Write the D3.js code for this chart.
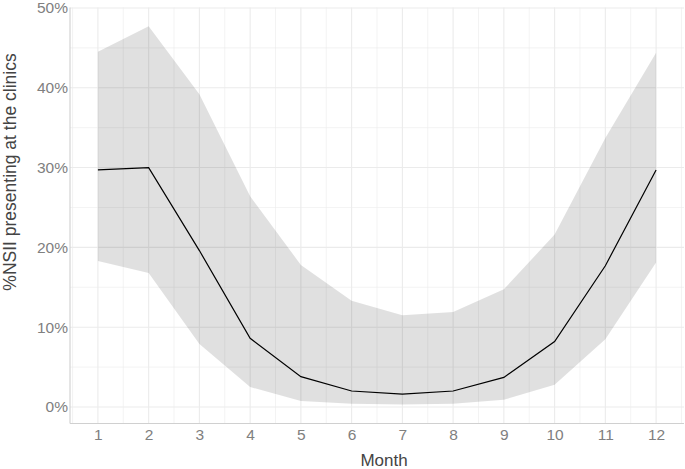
<!DOCTYPE html>
<html>
<head>
<meta charset="utf-8">
<script src="https://cdn.jsdelivr.net/npm/d3@7"></script>
<style>
  html, body { margin: 0; padding: 0; background: #fff; }
  svg { display: block; }
  text { font-family: "Liberation Sans", Arial, Helvetica, sans-serif; }
</style>
</head>
<body>
<svg id="chart" width="685" height="469"></svg>
<script>
const months = [1, 2, 3, 4, 5, 6, 7, 8, 9, 10, 11, 12];
const meanPct  = [29.7, 30.0, 19.6, 8.6, 3.8, 2.0, 1.6, 2.0, 3.7, 8.2, 17.7, 29.7];
const upperPct = [44.5, 47.7, 39.2, 26.4, 17.8, 13.3, 11.5, 11.9, 14.75, 21.6, 33.7, 44.4];
const lowerPct = [18.3, 16.8, 7.9, 2.5, 0.75, 0.4, 0.3, 0.4, 0.9, 2.8, 8.5, 18.1];
const yTicks = [0, 10, 20, 30, 40, 50];
const yMinor = [5, 15, 25, 35, 45];
const xMinor = [0.5, 1.5, 2.5, 3.5, 4.5, 5.5, 6.5, 7.5, 8.5, 9.5, 10.5, 11.5, 12.5];
const xTitle = "Month";
const yTitle = "%NSII presenting at the clinics";

(function () {
const data = months.map((m, i) => ({ m, mean: meanPct[i], lo: lowerPct[i], hi: upperPct[i] }));

const svg = d3.select("#chart");
const pLeft = 70, pRight = 684, pTop = 7.4, pBottom = 423.5;

const x = d3.scaleLinear().domain([0.45, 12.55]).range([pLeft, pRight]);
const y = d3.scaleLinear().domain([-2.07, 50.07]).range([pBottom, pTop]);

const grid = svg.append("g");
grid.selectAll(".vminor").data(xMinor).join("line")
  .attr("x1", d => x(d)).attr("x2", d => x(d))
  .attr("y1", pTop).attr("y2", pBottom)
  .attr("stroke", "#ebebeb").attr("stroke-width", 0.6);
grid.selectAll(".hminor").data(yMinor).join("line")
  .attr("x1", pLeft).attr("x2", pRight)
  .attr("y1", d => y(d)).attr("y2", d => y(d))
  .attr("stroke", "#ebebeb").attr("stroke-width", 0.6);
grid.selectAll(".vmajor").data(months).join("line")
  .attr("x1", d => x(d)).attr("x2", d => x(d))
  .attr("y1", pTop).attr("y2", pBottom)
  .attr("stroke", "#ebebeb").attr("stroke-width", 1.1);
grid.selectAll(".hmajor").data(yTicks).join("line")
  .attr("x1", pLeft).attr("x2", pRight)
  .attr("y1", d => y(d)).attr("y2", d => y(d))
  .attr("stroke", "#ebebeb").attr("stroke-width", 1.1);

const area = d3.area().x(d => x(d.m)).y0(d => y(d.lo)).y1(d => y(d.hi));
svg.append("path").datum(data).attr("d", area)
  .attr("fill", "#000").attr("fill-opacity", 0.12);

const line = d3.line().x(d => x(d.m)).y(d => y(d.mean));
svg.append("path").datum(data).attr("d", line)
  .attr("fill", "none").attr("stroke", "#000").attr("stroke-width", 1.2);

svg.append("line").attr("x1", pLeft).attr("x2", pLeft).attr("y1", pTop).attr("y2", pBottom)
  .attr("stroke", "#d0d0d0").attr("stroke-width", 1.1);
svg.append("line").attr("x1", pLeft).attr("x2", pRight).attr("y1", pBottom).attr("y2", pBottom)
  .attr("stroke", "#d0d0d0").attr("stroke-width", 1.1);

const xAxis = d3.axisBottom(x).tickValues(months).tickSize(0).tickPadding(0).tickFormat(d3.format("d"));
const gx = svg.append("g").attr("transform", `translate(0,${pBottom})`).call(xAxis);
gx.select(".domain").remove();
gx.selectAll("text").attr("fill", "#808080").attr("font-size", "15.5px").attr("dy", null).attr("y", 16.5);

const yAxis = d3.axisLeft(y).tickValues(yTicks).tickSize(0).tickPadding(2).tickFormat(d => d + "%");
const gy = svg.append("g").attr("transform", `translate(${pLeft},0)`).call(yAxis);
gy.select(".domain").remove();
gy.selectAll("text").attr("fill", "#808080").attr("font-size", "15.5px");

svg.append("text").attr("x", 384).attr("y", 466).attr("text-anchor", "middle")
  .attr("font-size", "17px").attr("fill", "#444").text(xTitle);
svg.append("text").attr("transform", "translate(15.5,172) rotate(-90)").attr("text-anchor", "middle")
  .attr("font-size", "17.5px").attr("fill", "#444").text(yTitle);
})();
</script>
</body>
</html>
